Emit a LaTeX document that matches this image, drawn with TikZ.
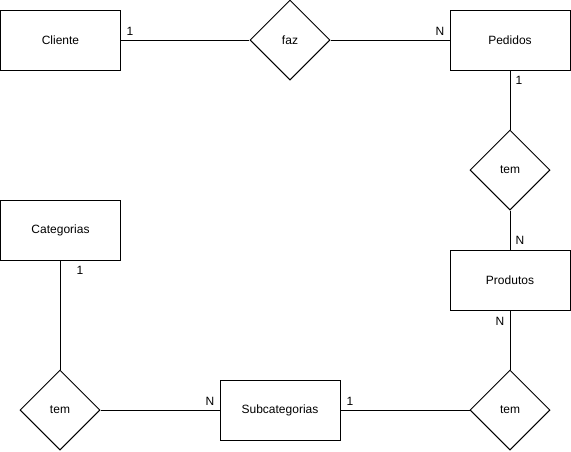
\documentclass[tikz,border=0pt]{standalone}
\usepackage{fontspec}
\setmainfont{Liberation Sans}
\usetikzlibrary{shapes.geometric}
\begin{document}
\begin{tikzpicture}[x=1pt,y=-1pt,
  every node/.style={font=\fontsize{12}{14}\selectfont},
  entity/.style={draw,line width=1pt,minimum width=120pt,minimum height=60pt,inner sep=0pt},
  rel/.style={draw,line width=1pt,diamond,minimum width=80pt,minimum height=80pt,inner sep=0pt},
  conn/.style={line width=1pt},
  card/.style={inner sep=0pt}]
\useasboundingbox (0,0) rectangle (571,451);
\node[entity] (cliente) at (60.5,40) {Cliente};
\node[rel] (faz) at (290,40) {faz};
\node[entity] (pedidos) at (510,40) {Pedidos};
\node[rel] (tem1) at (510,170) {tem};
\node[entity] (produtos) at (510,280) {Produtos};
\node[rel] (tem2) at (510,410) {tem};
\node[entity] (sub) at (280,410) {Subcategorias};
\node[rel] (tem3) at (60,410) {tem};
\node[entity] (cat) at (60.5,230) {Categorias};
\draw[conn] (cliente) -- (faz);
\draw[conn] (faz) -- (pedidos);
\draw[conn] (pedidos) -- (tem1);
\draw[conn] (tem1) -- (produtos);
\draw[conn] (produtos) -- (tem2);
\draw[conn] (sub) -- (tem2);
\draw[conn] (tem3) -- (sub);
\draw[conn] (cat.south -| tem3) -- (tem3);
\node[card] (c1) at (130,31) {1};
\node[card] (c2) at (440,31) {N};
\node[card] (c3) at (519,80) {1};
\node[card] (c4) at (520,240) {N};
\node[card] (c5) at (500,321) {N};
\node[card] (c6) at (350,401) {1};
\node[card] (c7) at (210,401) {N};
\node[card] (c8) at (80,270) {1};
\end{tikzpicture}
\end{document}
